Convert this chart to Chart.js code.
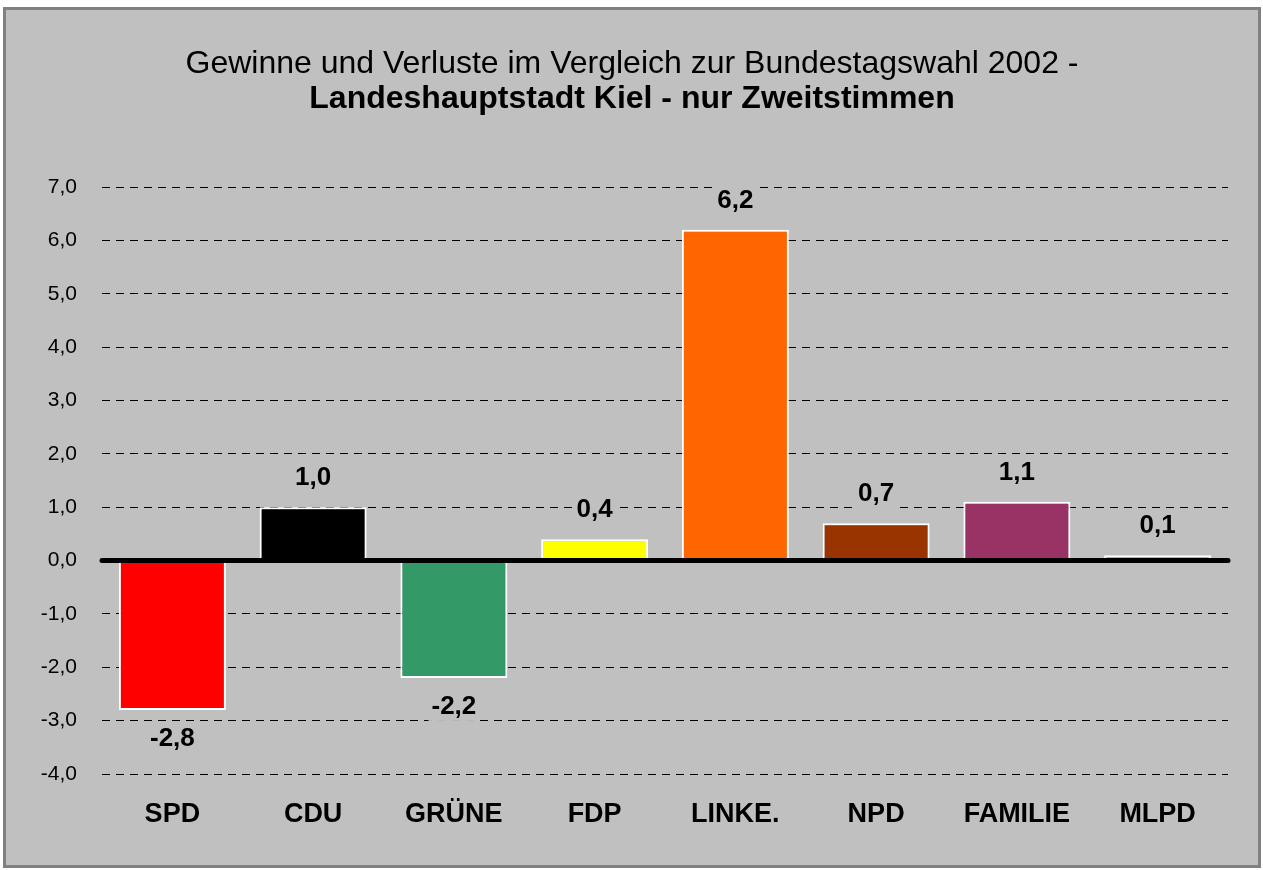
<!DOCTYPE html>
<html>
<head>
<meta charset="utf-8">
<script src="https://cdn.jsdelivr.net/npm/chart.js@4.4.1/dist/chart.umd.min.js"></script>
<style>
  html, body { margin: 0; padding: 0; background: #fff; }
  #box {
    position: absolute; left: 3px; top: 7px;
    width: 1252px; height: 855px;
    border: 3px solid #808080;
    background: #C0C0C0;
  }
  canvas { display: block; }
</style>
</head>
<body>
<div id="box"><canvas id="chart" width="1252" height="855"></canvas></div>
<script>
const parties = ['SPD', 'CDU', 'GRÜNE', 'FDP', 'LINKE.', 'NPD', 'FAMILIE', 'MLPD'];
const changes = [-2.8, 1.0, -2.2, 0.4, 6.2, 0.7, 1.1, 0.1];
const barColors = ['#FF0000', '#000000', '#339966', '#FFFF00', '#FF6600', '#993300', '#993366', '#FF9900'];
const yTicks = [-4, -3, -2, -1, 0, 1, 2, 3, 4, 5, 6, 7];

const fontFamily = 'Arial, "Liberation Sans", sans-serif';
const fmt = v => v.toFixed(1).replace('.', ',');

// thick zero line on top of bars, then value labels
const overlay = {
  id: 'overlay',
  afterDatasetsDraw(chart) {
    const { ctx, chartArea, scales } = chart;
    const y0 = scales.y.getPixelForValue(0);
    ctx.save();
    ctx.strokeStyle = '#000';
    ctx.lineWidth = 5;
    ctx.lineCap = 'round';
    ctx.beginPath();
    ctx.moveTo(chartArea.left, y0);
    ctx.lineTo(chartArea.right, y0);
    ctx.stroke();

    ctx.font = 'bold 26px ' + fontFamily;
    ctx.textAlign = 'center';
    ctx.textBaseline = 'middle';
    chart.getDatasetMeta(0).data.forEach((bar, i) => {
      const v = changes[i];
      const y = v >= 0 ? bar.y - 29 : bar.y + 29;
      const txt = fmt(v);
      const w = ctx.measureText(txt).width;
      ctx.fillStyle = '#C0C0C0';
      ctx.fillRect(bar.x - w / 2 - 3, y - 14, w + 6, 28);
      ctx.fillStyle = '#000';
      ctx.fillText(txt, bar.x, y);
    });
    ctx.restore();
  }
};

new Chart(document.getElementById('chart'), {
  type: 'bar',
  data: {
    labels: parties,
    datasets: [{
      data: changes,
      backgroundColor: barColors,
      borderColor: '#FFFFFF',
      borderWidth: 2,
      borderSkipped: false,
      barPercentage: 0.76,
      categoryPercentage: 1.0
    }]
  },
  options: {
    responsive: false,
    devicePixelRatio: 1,
    animation: false,
    layout: { padding: 0 },
    plugins: {
      legend: { display: false },
      tooltip: { enabled: false },
      title: {
        display: true,
        text: 'Gewinne und Verluste im Vergleich zur Bundestagswahl 2002 -',
        color: '#000',
        font: { family: fontFamily, size: 32, weight: 'normal', lineHeight: 1.0 },
        padding: { top: 38, bottom: 3 }
      },
      subtitle: {
        display: true,
        text: 'Landeshauptstadt Kiel - nur Zweitstimmen',
        color: '#000',
        font: { family: fontFamily, size: 32, weight: 'bold', lineHeight: 1.0 },
        padding: { top: 0, bottom: 72 }
      }
    },
    scales: {
      x: {
        grid: { display: false, drawTicks: false },
        border: { display: false },
        ticks: {
          color: '#000',
          padding: 24,
          font: { family: fontFamily, size: 27, weight: 'bold' }
        },
        afterFit(scale) { scale.height = 91; }
      },
      y: {
        min: yTicks[0],
        max: yTicks[yTicks.length - 1],
        afterBuildTicks(scale) { scale.ticks = yTicks.map(v => ({ value: v })); },
        grid: { color: '#000', lineWidth: 1, drawTicks: false },
        border: { display: false, dash: [8, 6] },
        ticks: {
          color: '#000',
          padding: 25,
          font: { family: fontFamily, size: 21 },
          callback: v => fmt(v)
        },
        afterFit(scale) { scale.width = 96; }
      },
      // empty right-hand spacer so the titles stay centred on the whole box
      spacer: {
        type: 'linear',
        position: 'right',
        grid: { display: false, drawTicks: false },
        border: { display: false },
        ticks: { display: false },
        afterFit(scale) { scale.width = 30; }
      }
    }
  },
  plugins: [overlay]
});
</script>
</body>
</html>
